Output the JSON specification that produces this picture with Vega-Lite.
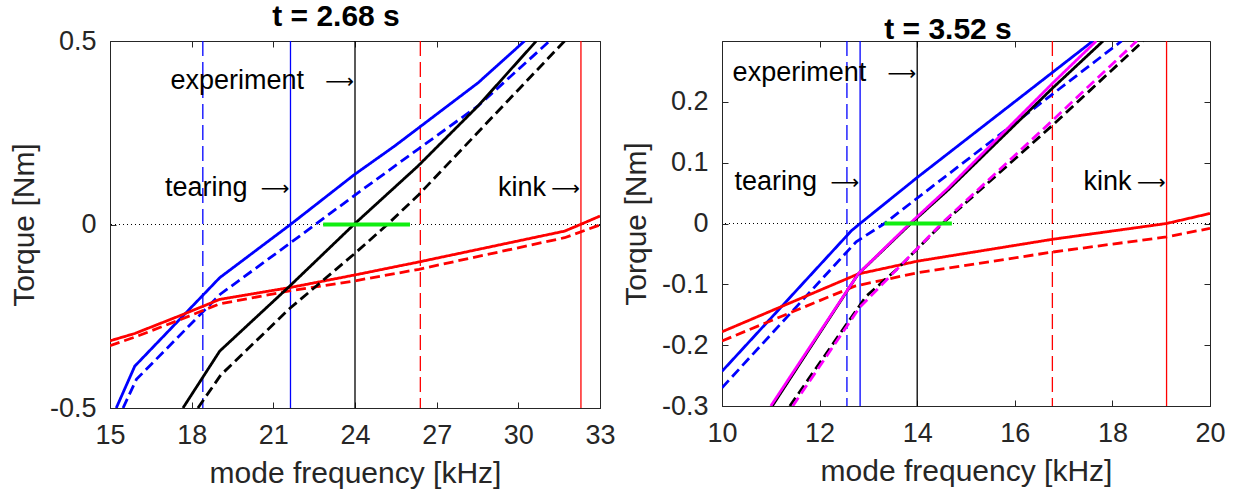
{
  "$schema": "https://vega.github.io/schema/vega-lite/v6.json",
  "padding": {"left": 8, "top": 1, "right": 5, "bottom": 5},
  "background": "white",
  "bounds": "flush",
  "spacing": 122,
  "config": {
    "font": "Liberation Sans",
    "view": {"stroke": "#262626", "strokeWidth": 1},
    "axis": {
      "labelFont": "Liberation Sans", "labelFontSize": 27, "labelColor": "#262626",
      "titleFont": "Liberation Sans", "titleFontSize": 30, "titleFontWeight": "normal", "titleColor": "#262626",
      "domainColor": "#262626", "tickColor": "#262626", "tickSize": -6, "labelPadding": 20, "titlePadding": 10,
      "grid": false, "labelFlush": false, "labelOverlap": false
    },
    "title": {"font": "Liberation Sans", "fontSize": 30, "fontWeight": "bold", "color": "#000000", "anchor": "middle", "offset": -5}
  },
  "hconcat": [
    {
      "width": 490, "height": 367,
      "title": {"text": "t = 2.68 s", "dx": -19},
      "resolve": {"axis": {"x": "independent", "y": "independent"}},
      "layer": [
        {
          "encoding": {
            "x": {"field": "x", "type": "quantitative", "scale": {"domain": [15, 33], "nice": false, "zero": false}, "axis": {"values": [15, 18, 21, 24, 27, 30, 33], "title": "mode frequency [kHz]"}},
            "y": {"field": "y", "type": "quantitative", "scale": {"domain": [-0.5, 0.5], "nice": false, "zero": false}, "axis": {"values": [-0.5, 0, 0.5], "title": "Torque [Nm]", "format": "~g", "labelExpr": "replace(datum.label, '−', '-')"}}
          },
          "layer": [
            {
              "data": {"values": [
                {"x": 21.63, "mode": "tearing"},
                {"x": 24.0, "mode": "experiment"},
                {"x": 32.3, "mode": "kink"}
              ]},
              "mark": {"type": "rule", "strokeWidth": 1.3},
              "encoding": {
                "y": null,
                "color": {"field": "mode", "type": "nominal", "legend": null, "scale": {"domain": ["tearing", "kink", "total", "total (alt)", "experiment"], "range": ["#0000ff", "#ff0000", "#000000", "#ff00ff", "#000000"]}}
              }
            },
            {
              "data": {"values": [
                {"x": 18.41, "mode": "tearing"},
                {"x": 26.4, "mode": "kink"}
              ]},
              "mark": {"type": "rule", "strokeWidth": 1.3, "strokeDash": [15, 6]},
              "encoding": {
                "y": null,
                "color": {"field": "mode", "type": "nominal", "legend": null, "scale": {"domain": ["tearing", "kink", "total", "total (alt)", "experiment"], "range": ["#0000ff", "#ff0000", "#000000", "#ff00ff", "#000000"]}}
              }
            },
            {
              "data": {"values": [{"y": 0}]},
              "mark": {"type": "rule", "strokeDash": [1, 3], "color": "#000000", "strokeWidth": 1},
              "encoding": {"x": null}
            },
            {
              "data": {"values": [
                {"mode": "tearing", "case": "1", "x": 15.23, "y": -0.5},
                {"mode": "tearing", "case": "1", "x": 15.91, "y": -0.386},
                {"mode": "tearing", "case": "1", "x": 19.03, "y": -0.145},
                {"mode": "tearing", "case": "1", "x": 21.63, "y": 0.0},
                {"mode": "tearing", "case": "1", "x": 23.96, "y": 0.135},
                {"mode": "tearing", "case": "1", "x": 25.46, "y": 0.214},
                {"mode": "tearing", "case": "1", "x": 28.52, "y": 0.386},
                {"mode": "tearing", "case": "1", "x": 30.23, "y": 0.5},
                {"mode": "tearing", "case": "2", "x": 15.48, "y": -0.5},
                {"mode": "tearing", "case": "2", "x": 15.97, "y": -0.422},
                {"mode": "tearing", "case": "2", "x": 19.05, "y": -0.19},
                {"mode": "tearing", "case": "2", "x": 21.63, "y": -0.05},
                {"mode": "tearing", "case": "2", "x": 23.96, "y": 0.078},
                {"mode": "tearing", "case": "2", "x": 26.31, "y": 0.205},
                {"mode": "tearing", "case": "2", "x": 28.52, "y": 0.323},
                {"mode": "tearing", "case": "2", "x": 31.15, "y": 0.5},
                {"mode": "kink", "case": "1", "x": 15.0, "y": -0.317},
                {"mode": "kink", "case": "1", "x": 15.91, "y": -0.297},
                {"mode": "kink", "case": "1", "x": 17.62, "y": -0.247},
                {"mode": "kink", "case": "1", "x": 19.03, "y": -0.204},
                {"mode": "kink", "case": "1", "x": 21.6, "y": -0.172},
                {"mode": "kink", "case": "1", "x": 23.96, "y": -0.138},
                {"mode": "kink", "case": "1", "x": 26.35, "y": -0.102},
                {"mode": "kink", "case": "1", "x": 31.7, "y": -0.018},
                {"mode": "kink", "case": "1", "x": 32.28, "y": 0.0},
                {"mode": "kink", "case": "1", "x": 33.0, "y": 0.023},
                {"mode": "kink", "case": "2", "x": 15.0, "y": -0.33},
                {"mode": "kink", "case": "2", "x": 15.91, "y": -0.307},
                {"mode": "kink", "case": "2", "x": 17.62, "y": -0.258},
                {"mode": "kink", "case": "2", "x": 19.03, "y": -0.216},
                {"mode": "kink", "case": "2", "x": 21.6, "y": -0.181},
                {"mode": "kink", "case": "2", "x": 23.96, "y": -0.154},
                {"mode": "kink", "case": "2", "x": 26.35, "y": -0.122},
                {"mode": "kink", "case": "2", "x": 31.7, "y": -0.036},
                {"mode": "kink", "case": "2", "x": 33.0, "y": -0.001},
                {"mode": "total", "case": "1", "x": 17.68, "y": -0.5},
                {"mode": "total", "case": "1", "x": 19.03, "y": -0.345},
                {"mode": "total", "case": "1", "x": 21.6, "y": -0.168},
                {"mode": "total", "case": "1", "x": 23.96, "y": 0.0},
                {"mode": "total", "case": "1", "x": 26.31, "y": 0.159},
                {"mode": "total", "case": "1", "x": 28.52, "y": 0.323},
                {"mode": "total", "case": "1", "x": 30.66, "y": 0.5},
                {"mode": "total", "case": "2", "x": 18.23, "y": -0.5},
                {"mode": "total", "case": "2", "x": 19.07, "y": -0.41},
                {"mode": "total", "case": "2", "x": 21.6, "y": -0.229},
                {"mode": "total", "case": "2", "x": 23.96, "y": -0.081},
                {"mode": "total", "case": "2", "x": 25.19, "y": 0.0},
                {"mode": "total", "case": "2", "x": 26.35, "y": 0.082},
                {"mode": "total", "case": "2", "x": 31.7, "y": 0.5}
              ]},
              "mark": {"type": "line", "strokeWidth": 2.8, "clip": true},
              "encoding": {
                "color": {"field": "mode", "type": "nominal", "legend": null, "scale": {"domain": ["tearing", "kink", "total", "total (alt)", "experiment"], "range": ["#0000ff", "#ff0000", "#000000", "#ff00ff", "#000000"]}},
                "strokeDash": {"field": "case", "type": "nominal", "legend": null, "scale": {"domain": ["1", "2"], "range": [[1, 0], [10, 5]]}}
              }
            },
            {
              "data": {"values": [
                {"x": 24.0, "y": 0.39, "label": "experiment"},
                {"x": 21.63, "y": 0.1, "label": "tearing"},
                {"x": 32.3, "y": 0.1, "label": "kink"}
              ]},
              "layer": [
                {
                  "transform": [{"filter": "datum.label == 'experiment'"}],
                  "mark": {"type": "text", "align": "right", "baseline": "middle", "dx": -51, "fontSize": 27, "font": "Liberation Sans", "color": "#000000"},
                  "encoding": {"text": {"field": "label", "type": "nominal"}}
                },
                {
                  "transform": [{"filter": "datum.label == 'tearing'"}],
                  "mark": {"type": "text", "align": "right", "baseline": "middle", "dx": -43, "fontSize": 27, "font": "Liberation Sans", "color": "#000000"},
                  "encoding": {"text": {"field": "label", "type": "nominal"}}
                },
                {
                  "transform": [{"filter": "datum.label == 'kink'"}],
                  "mark": {"type": "text", "align": "right", "baseline": "middle", "dx": -35, "fontSize": 27, "font": "Liberation Sans", "color": "#000000"},
                  "encoding": {"text": {"field": "label", "type": "nominal"}}
                },
                {
                  "mark": {"type": "text", "text": "⟶", "align": "right", "baseline": "middle", "dx": -1, "dy": 1, "fontSize": 20, "font": "DejaVu Sans", "color": "#000000"}
                }
              ]
            }
          ]
        },
        {
          "data": {"values": [{"x": 22.83, "x2": 26.02, "y": 0}]},
          "mark": {"type": "rule", "color": "#11ee11", "strokeWidth": 4},
          "encoding": {
            "x": {"field": "x", "type": "quantitative", "scale": {"domain": [15, 33], "nice": false, "zero": false}, "axis": {"orient": "top", "values": [15, 18, 21, 24, 27, 30, 33], "labels": false, "domain": false, "title": null}},
            "x2": {"field": "x2"},
            "y": {"field": "y", "type": "quantitative", "scale": {"domain": [-0.5, 0.5], "nice": false, "zero": false}, "axis": {"orient": "right", "values": [-0.5, 0, 0.5], "labels": false, "domain": false, "title": null}}
          }
        }
      ]
    },
    {
      "width": 488, "height": 365,
      "title": {"text": "t = 3.52 s", "dx": -18},
      "resolve": {"axis": {"x": "independent", "y": "independent"}},
      "layer": [
        {
          "encoding": {
            "x": {"field": "x", "type": "quantitative", "scale": {"domain": [10, 20], "nice": false, "zero": false}, "axis": {"values": [10, 12, 14, 16, 18, 20], "title": "mode frequency [kHz]"}},
            "y": {"field": "y", "type": "quantitative", "scale": {"domain": [-0.3, 0.3], "nice": false, "zero": false}, "axis": {"values": [-0.3, -0.2, -0.1, 0, 0.1, 0.2], "title": "Torque [Nm]", "format": "~g", "labelExpr": "replace(datum.label, '−', '-')"}}
          },
          "layer": [
            {
              "data": {"values": [
                {"x": 12.83, "mode": "tearing"},
                {"x": 14.0, "mode": "experiment"},
                {"x": 19.11, "mode": "kink"}
              ]},
              "mark": {"type": "rule", "strokeWidth": 1.3},
              "encoding": {
                "y": null,
                "color": {"field": "mode", "type": "nominal", "legend": null, "scale": {"domain": ["tearing", "kink", "total", "total (alt)", "experiment"], "range": ["#0000ff", "#ff0000", "#000000", "#ff00ff", "#000000"]}}
              }
            },
            {
              "data": {"values": [
                {"x": 12.56, "mode": "tearing"},
                {"x": 16.77, "mode": "kink"}
              ]},
              "mark": {"type": "rule", "strokeWidth": 1.3, "strokeDash": [15, 6]},
              "encoding": {
                "y": null,
                "color": {"field": "mode", "type": "nominal", "legend": null, "scale": {"domain": ["tearing", "kink", "total", "total (alt)", "experiment"], "range": ["#0000ff", "#ff0000", "#000000", "#ff00ff", "#000000"]}}
              }
            },
            {
              "data": {"values": [{"y": 0}]},
              "mark": {"type": "rule", "strokeDash": [1, 3], "color": "#000000", "strokeWidth": 1},
              "encoding": {"x": null}
            },
            {
              "data": {"values": [
                {"mode": "tearing", "case": "1", "x": 10.0, "y": -0.243},
                {"mode": "tearing", "case": "1", "x": 12.65, "y": -0.012},
                {"mode": "tearing", "case": "1", "x": 12.83, "y": 0.0},
                {"mode": "tearing", "case": "1", "x": 14.0, "y": 0.0756},
                {"mode": "tearing", "case": "1", "x": 17.6, "y": 0.3},
                {"mode": "tearing", "case": "2", "x": 10.0, "y": -0.27},
                {"mode": "tearing", "case": "2", "x": 12.75, "y": -0.03},
                {"mode": "tearing", "case": "2", "x": 13.33, "y": 0.0},
                {"mode": "tearing", "case": "2", "x": 13.95, "y": 0.0386},
                {"mode": "tearing", "case": "2", "x": 18.19, "y": 0.3},
                {"mode": "kink", "case": "1", "x": 10.0, "y": -0.178},
                {"mode": "kink", "case": "1", "x": 12.79, "y": -0.083},
                {"mode": "kink", "case": "1", "x": 14.0, "y": -0.062},
                {"mode": "kink", "case": "1", "x": 16.77, "y": -0.026},
                {"mode": "kink", "case": "1", "x": 19.11, "y": 0.0},
                {"mode": "kink", "case": "1", "x": 20.0, "y": 0.0165},
                {"mode": "kink", "case": "2", "x": 10.0, "y": -0.193},
                {"mode": "kink", "case": "2", "x": 12.72, "y": -0.103},
                {"mode": "kink", "case": "2", "x": 14.0, "y": -0.081},
                {"mode": "kink", "case": "2", "x": 16.77, "y": -0.047},
                {"mode": "kink", "case": "2", "x": 19.11, "y": -0.022},
                {"mode": "kink", "case": "2", "x": 20.0, "y": -0.008},
                {"mode": "total", "case": "1", "x": 11.03, "y": -0.3},
                {"mode": "total", "case": "1", "x": 12.79, "y": -0.083},
                {"mode": "total", "case": "1", "x": 13.87, "y": 0.0},
                {"mode": "total", "case": "1", "x": 14.63, "y": 0.055},
                {"mode": "total", "case": "1", "x": 16.78, "y": 0.223},
                {"mode": "total", "case": "1", "x": 17.81, "y": 0.3},
                {"mode": "total", "case": "2", "x": 11.39, "y": -0.3},
                {"mode": "total", "case": "2", "x": 12.6, "y": -0.16},
                {"mode": "total", "case": "2", "x": 12.95, "y": -0.12},
                {"mode": "total", "case": "2", "x": 13.6, "y": -0.074},
                {"mode": "total", "case": "2", "x": 14.52, "y": 0.0},
                {"mode": "total", "case": "2", "x": 16.78, "y": 0.162},
                {"mode": "total", "case": "2", "x": 18.63, "y": 0.3},
                {"mode": "total (alt)", "case": "1", "x": 11.0, "y": -0.3},
                {"mode": "total (alt)", "case": "1", "x": 12.79, "y": -0.083},
                {"mode": "total (alt)", "case": "1", "x": 13.85, "y": 0.0},
                {"mode": "total (alt)", "case": "1", "x": 14.63, "y": 0.058},
                {"mode": "total (alt)", "case": "1", "x": 16.78, "y": 0.231},
                {"mode": "total (alt)", "case": "1", "x": 17.67, "y": 0.3},
                {"mode": "total (alt)", "case": "2", "x": 11.45, "y": -0.3},
                {"mode": "total (alt)", "case": "2", "x": 12.82, "y": -0.138},
                {"mode": "total (alt)", "case": "2", "x": 13.6, "y": -0.074},
                {"mode": "total (alt)", "case": "2", "x": 14.5, "y": 0.0},
                {"mode": "total (alt)", "case": "2", "x": 16.78, "y": 0.17},
                {"mode": "total (alt)", "case": "2", "x": 18.5, "y": 0.3}
              ]},
              "mark": {"type": "line", "strokeWidth": 2.8, "clip": true},
              "encoding": {
                "color": {"field": "mode", "type": "nominal", "legend": null, "scale": {"domain": ["tearing", "kink", "total", "total (alt)", "experiment"], "range": ["#0000ff", "#ff0000", "#000000", "#ff00ff", "#000000"]}},
                "strokeDash": {"field": "case", "type": "nominal", "legend": null, "scale": {"domain": ["1", "2"], "range": [[1, 0], [10, 5]]}}
              }
            },
            {
              "data": {"values": [
                {"x": 14.0, "y": 0.248, "label": "experiment"},
                {"x": 12.83, "y": 0.068, "label": "tearing"},
                {"x": 19.11, "y": 0.068, "label": "kink"}
              ]},
              "layer": [
                {
                  "transform": [{"filter": "datum.label == 'experiment'"}],
                  "mark": {"type": "text", "align": "right", "baseline": "middle", "dx": -51, "fontSize": 27, "font": "Liberation Sans", "color": "#000000"},
                  "encoding": {"text": {"field": "label", "type": "nominal"}}
                },
                {
                  "transform": [{"filter": "datum.label == 'tearing'"}],
                  "mark": {"type": "text", "align": "right", "baseline": "middle", "dx": -43, "fontSize": 27, "font": "Liberation Sans", "color": "#000000"},
                  "encoding": {"text": {"field": "label", "type": "nominal"}}
                },
                {
                  "transform": [{"filter": "datum.label == 'kink'"}],
                  "mark": {"type": "text", "align": "right", "baseline": "middle", "dx": -35, "fontSize": 27, "font": "Liberation Sans", "color": "#000000"},
                  "encoding": {"text": {"field": "label", "type": "nominal"}}
                },
                {
                  "mark": {"type": "text", "text": "⟶", "align": "right", "baseline": "middle", "dx": -1, "dy": 1, "fontSize": 20, "font": "DejaVu Sans", "color": "#000000"}
                }
              ]
            }
          ]
        },
        {
          "data": {"values": [{"x": 13.33, "x2": 14.71, "y": 0}]},
          "mark": {"type": "rule", "color": "#11ee11", "strokeWidth": 4},
          "encoding": {
            "x": {"field": "x", "type": "quantitative", "scale": {"domain": [10, 20], "nice": false, "zero": false}, "axis": {"orient": "top", "values": [10, 12, 14, 16, 18, 20], "labels": false, "domain": false, "title": null}},
            "x2": {"field": "x2"},
            "y": {"field": "y", "type": "quantitative", "scale": {"domain": [-0.3, 0.3], "nice": false, "zero": false}, "axis": {"orient": "right", "values": [-0.3, -0.2, -0.1, 0, 0.1, 0.2], "labels": false, "domain": false, "title": null}}
          }
        }
      ]
    }
  ]
}
